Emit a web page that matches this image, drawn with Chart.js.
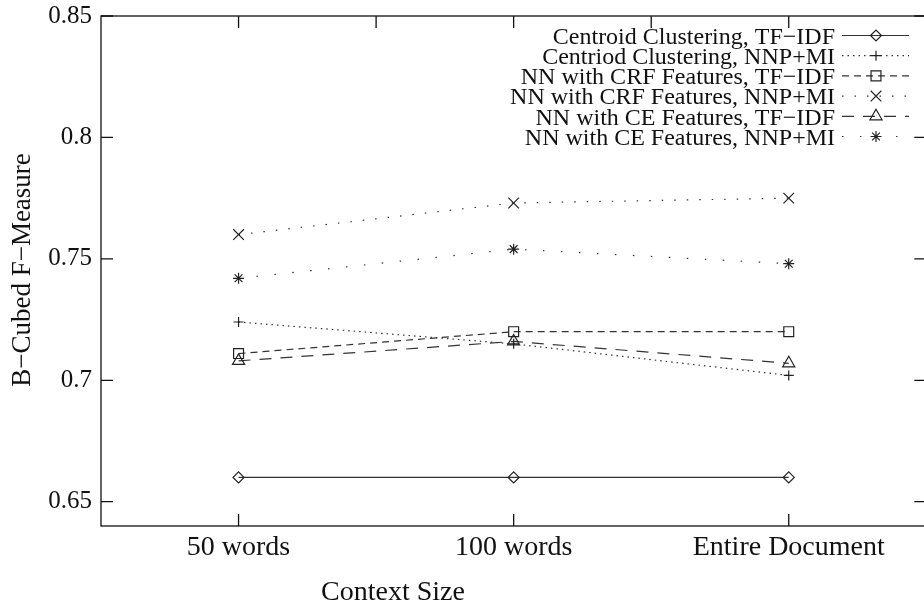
<!DOCTYPE html>
<html>
<head>
<meta charset="utf-8">
<script src="https://cdn.jsdelivr.net/npm/chart.js@4.4.1/dist/chart.umd.min.js"></script>
<style>
  html, body { margin: 0; padding: 0; background: #fff; }
  #wrap { width: 924px; height: 604px; overflow: hidden; }
</style>
</head>
<body>
<div id="wrap"><canvas id="chart" width="935" height="604"></canvas></div>
<script>
const contexts = ['50 words', '100 words', 'Entire Document']
const yTicks = [0.65, 0.7, 0.75, 0.8, 0.85]
const yTickLabels = ['0.65', '0.7', '0.75', '0.8', '0.85']

const centroidTfidf = [0.66, 0.66, 0.66]
const centroidNnpMi = [0.724, 0.715, 0.702]
const crfTfidf = [0.711, 0.72, 0.72]
const crfNnpMi = [0.76, 0.773, 0.775]
const ceTfidf = [0.708, 0.716, 0.707]
const ceNnpMi = [0.742, 0.754, 0.748]

const FONT = '"Liberation Serif", "DejaVu Serif", serif'
const INK = '#111'

const series = [
  { label: 'Centroid Clustering, TF\u2212IDF', data: centroidTfidf, style: 'rectRot', r: 5.5, dash: [] },
  { label: 'Centriod Clustering, NNP+MI', data: centroidNnpMi, style: 'cross', r: 5, dash: [1.5, 4] },
  { label: 'NN with CRF Features, TF\u2212IDF', data: crfTfidf, style: 'rect', r: 7, dash: [7, 5] },
  { label: 'NN with CRF Features, NNP+MI', data: crfNnpMi, style: 'crossRot', r: 7.5, dash: [1.5, 11] },
  { label: 'NN with CE Features, TF\u2212IDF', data: ceTfidf, style: 'triangle', r: 7, dash: [12, 9] },
  { label: 'NN with CE Features, NNP+MI', data: ceNnpMi, style: 'star', r: 5.5, dash: [1.5, 16.5] }
]

// gnuplot-like frame: border, inward ticks, legend and axis titles
const framePlugin = {
  id: 'frame',
  afterDraw(chart) {
    const { ctx, chartArea: a, scales: { x, y } } = chart
    const tick = 12
    ctx.save()
    ctx.strokeStyle = INK
    ctx.lineWidth = 1.3
    ctx.setLineDash([])
    ctx.strokeRect(a.left, a.top, a.right - a.left, a.bottom - a.top)

    ctx.beginPath()
    yTicks.forEach(v => {
      const py = y.getPixelForValue(v)
      ctx.moveTo(a.left, py); ctx.lineTo(a.left + tick, py)
      ctx.moveTo(a.right, py); ctx.lineTo(a.right - tick, py)
    })
    contexts.forEach((c, i) => {
      const px = x.getPixelForValue(i)
      ctx.moveTo(px, a.bottom); ctx.lineTo(px, a.bottom - tick)
    })
    // top ticks every half step
    const step = x.getPixelForValue(1) - x.getPixelForValue(0)
    for (let k = 0; k <= 4; k++) {
      const px = x.getPixelForValue(0) + k * step / 2
      ctx.moveTo(px, a.top); ctx.lineTo(px, a.top + tick)
    }
    ctx.stroke()

    // legend
    ctx.font = '24px ' + FONT
    ctx.textAlign = 'right'
    ctx.textBaseline = 'middle'
    series.forEach((s, i) => {
      const ly = 35.5 + i * 20.2
      ctx.fillStyle = INK
      ctx.fillText(s.label, 835, ly + 2)
      ctx.save()
      ctx.strokeStyle = '#333'
      ctx.lineWidth = 1.2
      ctx.setLineDash(s.dash)
      ctx.beginPath()
      ctx.moveTo(842, ly); ctx.lineTo(909, ly)
      ctx.stroke()
      ctx.setLineDash([])
      ctx.strokeStyle = '#222'
      ctx.fillStyle = 'rgba(0,0,0,0)'
      Chart.helpers.drawPoint(ctx, { pointStyle: s.style, radius: s.r, rotation: 0, borderWidth: 1.2 }, 876, ly)
      ctx.restore()
    })

    // axis titles
    ctx.fillStyle = INK
    ctx.font = '28px ' + FONT
    ctx.textAlign = 'center'
    ctx.textBaseline = 'alphabetic'
    ctx.fillText('Context Size', 393, 600)
    ctx.textBaseline = 'middle'
    ctx.translate(23, 270)
    ctx.rotate(-Math.PI / 2)
    ctx.font = '27px ' + FONT
    ctx.fillText('B\u2212Cubed F\u2212Measure', 0, 0)
    ctx.restore()
  }
}

const data = {
  labels: contexts,
  datasets: series.map(s => ({
    label: s.label,
    data: s.data,
    borderColor: '#333',
    borderWidth: 1.2,
    borderDash: s.dash,
    pointStyle: s.style,
    pointRadius: s.r,
    pointHoverRadius: s.r,
    pointBorderColor: '#222',
    pointBorderWidth: 1.2,
    pointBackgroundColor: 'rgba(0,0,0,0)',
    tension: 0,
    clip: false
  }))
}

const config = {
  type: 'line',
  data: data,
  plugins: [framePlugin],
  options: {
    responsive: false,
    animation: false,
    devicePixelRatio: 1,
    layout: { padding: { top: 13, right: 2, left: 0, bottom: 0 } },
    plugins: {
      legend: { display: false },
      tooltip: { enabled: false }
    },
    scales: {
      x: {
        offset: true,
        grid: { display: false },
        border: { display: false },
        ticks: { color: INK, font: { family: FONT, size: 28 }, padding: -3, maxRotation: 0 },
        afterFit: s => { s.height = 78 }
      },
      y: {
        min: 0.64,
        max: 0.85,
        grid: { display: false },
        border: { display: false },
        afterBuildTicks: s => { s.ticks = yTicks.map(v => ({ value: v })) },
        ticks: {
          color: INK,
          font: { family: FONT, size: 25 },
          padding: 1,
          callback: v => yTickLabels[yTicks.indexOf(v)]
        },
        afterFit: s => { s.width = 101 }
      }
    }
  }
}

const chart = new Chart(document.getElementById('chart'), config)
</script>
</body>
</html>
